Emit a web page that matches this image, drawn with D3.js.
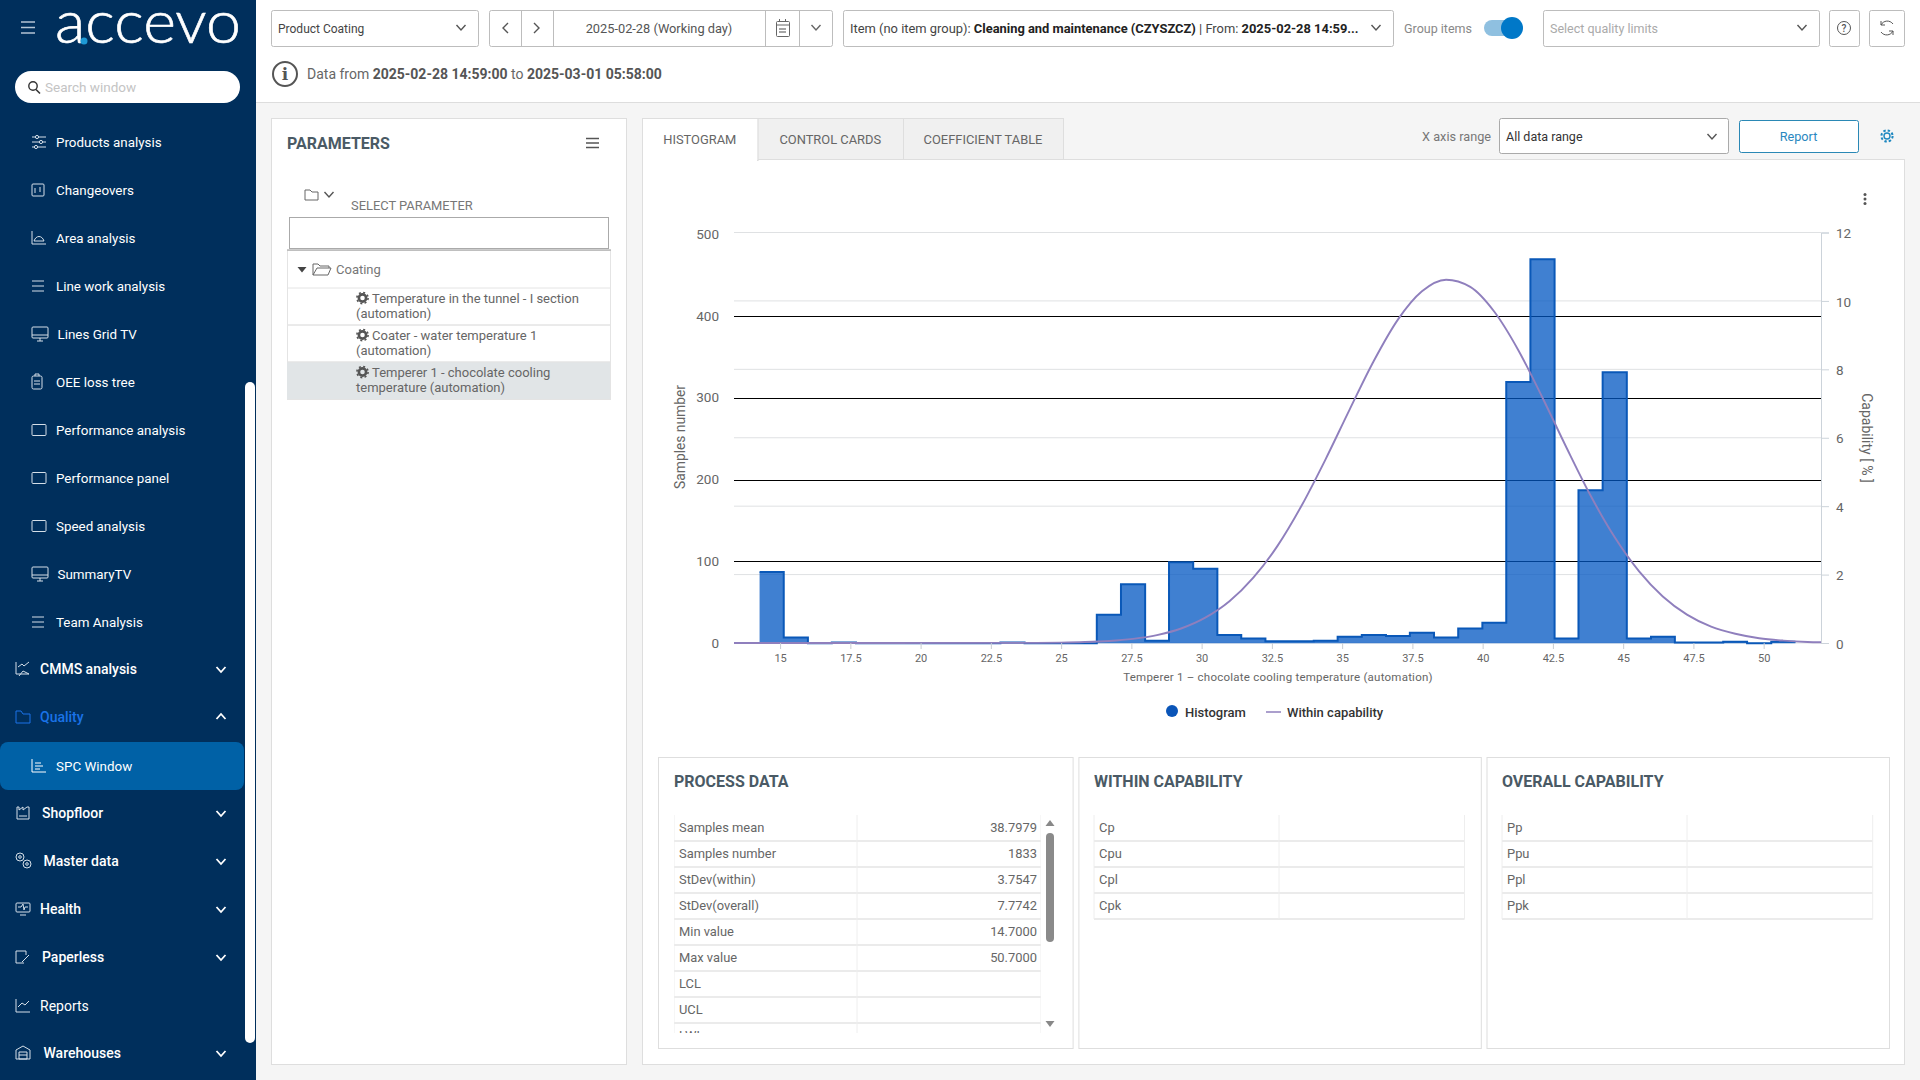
<!DOCTYPE html>
<html><head><meta charset="utf-8"><title>SPC Window</title>
<script src="https://cdn.jsdelivr.net/npm/d3@7"></script>
<style>html,body{margin:0;padding:0;background:#fff;overflow:hidden}svg{display:block}text{font-family:Roboto,sans-serif}</style>
</head><body><div id="app"></div>
<script>
// ---------- chart data ----------
const binEdges=[14.27,15.13,15.99,16.84,17.7,18.56,19.41,20.27,21.13,21.99,22.84,23.7,24.56,25.41,26.27,27.13,27.99,28.84,29.7,30.56,31.41,32.27,33.13,33.99,34.84,35.7,36.56,37.41,38.27,39.13,39.99,40.84,41.7,42.56,43.41,44.27,45.13,45.99,46.84,47.7,48.56,49.41,50.27,51.13];
const histogramCounts=[87,7,0,1,0,0,0,0,0,0,1,0,0,0,35,72,3,99,91,10,6,2.4,2.4,3,8,10,9,13,7,18,25,319,469,6,187,331,6,8,1,1,2,0,2];
const capabilityX=[13.36,24.13,24.99,25.84,26.7,27.56,28.41,29.27,30.13,30.99,31.84,32.7,33.56,34.41,35.27,36.13,36.99,37.84,38.7,39.56,40.41,41.27,42.13,42.99,43.84,44.7,45.56,46.41,47.27,48.13,48.99,49.84,50.7,51.56,52.04];
const capabilityY=[0,0.005,0.012,0.028,0.059,0.121,0.231,0.424,0.74,1.22,1.91,2.84,4.02,5.37,6.83,8.25,9.46,10.28,10.62,10.41,9.69,8.56,7.17,5.7,4.31,3.09,2.1,1.36,0.83,0.48,0.27,0.14,0.07,0.03,0.02];
const xTicks=[15,17.5,20,22.5,25,27.5,30,32.5,35,37.5,40,42.5,45,47.5,50];
const leftTicks=[0,100,200,300,400,500];
const rightTicks=[0,2,4,6,8,10,12];
const xDomain=[13.36,52.04];
const leftDomain=[0,500];
const rightDomain=[0,12];
// ---------- page text ----------
const subMenu=["Products analysis","Changeovers","Area analysis","Line work analysis","Lines Grid TV","OEE loss tree","Performance analysis","Performance panel","Speed analysis","SummaryTV","Team Analysis"];
const subIcons=["sliders","grid","area","lines","tv","clip","box","box","box","tv","lines"];
const topMenu=["CMMS analysis","Quality","Shopfloor","Master data","Health","Paperless","Reports","Warehouses"];
const topIcons=["chart","folder","factory","gears","monitor","doc","line","store"];
const processLabels=["Samples mean","Samples number","StDev(within)","StDev(overall)","Min value","Max value","LCL","UCL","LWL"];
const processValues=["38.7979","1833","3.7547","7.7742","14.7000","50.7000","","",""];
const withinLabels=["Cp","Cpu","Cpl","Cpk"];
const overallLabels=["Pp","Ppu","Ppl","Ppk"];
const tabs=["HISTOGRAM","CONTROL CARDS","COEFFICIENT TABLE"];
const treeRows=[["Temperature in the tunnel - I section","(automation)"],["Coater - water temperature 1","(automation)"],["Temperer 1 - chocolate cooling","temperature (automation)"]];

const svg=d3.select("#app").append("svg").attr("width",1920).attr("height",1080).attr("viewBox","0 0 1920 1080");
function R(x,y,w,h,f,s,rx,g){return (g||svg).append("rect").attr("x",x+(s?.5:0)).attr("y",y+(s?.5:0)).attr("width",w).attr("height",h).attr("fill",f||"none").attr("stroke",s||"none").attr("rx",rx||0);}
function T(x,y,t,o={},g){const e=(g||svg).append("text").attr("x",x).attr("y",y).attr("dy",".35em").attr("font-size",o.s||13).attr("fill",o.c||"#666").attr("font-weight",o.w||400).attr("text-anchor",o.a||"start").text(t);if(o.ls)e.attr("letter-spacing",o.ls);if(o.f)e.style("font-family",o.f);return e;}
function P(d,s,o={},g){return (g||svg).append("path").attr("d",d).attr("fill",o.f||"none").attr("stroke",s||"none").attr("stroke-width",o.w||1).attr("stroke-linecap",o.cap||"butt");}
function chev(x,y,c,up,w){const h=up?-3:3;P(`M${x-4.5} ${y-h/1.5}L${x} ${y+h}L${x+4.5} ${y-h/1.5}`,c,{w:w||1.4});}

// backgrounds
R(0,0,1920,1080,"#f5f5f5");
R(256,0,1664,102.5,"#fff");
svg.append("line").attr("x1",256).attr("x2",1920).attr("y1",102.5).attr("y2",102.5).attr("stroke","#ddd");
const side=svg.append("g");
R(0,0,256,1080,"#002f5c",null,0,side);

// logo & search
[22,27.5,33].forEach(y=>side.append("line").attr("x1",21).attr("x2",35).attr("y1",y).attr("y2",y).attr("stroke","#b5c5d5").attr("stroke-width",1.5));
side.append("text").attr("x",55).attr("y",43).attr("font-size",59).attr("font-weight",300).attr("fill","#fff").attr("stroke","#fff").attr("stroke-width",.6).style("font-family","Lato").attr("textLength",186).attr("lengthAdjust","spacingAndGlyphs").text("accevo");
side.append("circle").attr("cx",84).attr("cy",41).attr("r",3.5).attr("fill","#1e9ad6");
R(15,71,225,32,"#fff",null,16,side);
side.append("circle").attr("cx",33).attr("cy",86).attr("r",4.2).attr("fill","none").attr("stroke","#333").attr("stroke-width",1.4);
P("M36 89.5L40 93.5","#333",{w:1.6},side);
T(45,87,"Search window",{s:13.5,c:"#c4c4c4"},side);

// sidebar icons
function icon(kind,x,y,c){const g=side.append("g").attr("transform",`translate(${x},${y})`).attr("fill","none").attr("stroke",c).attr("stroke-width",1);
 const p=d=>g.append("path").attr("d",d);
 if(kind==="sliders"){p("M0-5H14M0 0H14M0 5H14");[[5,-5],[9,0],[4,5]].forEach(a=>g.append("circle").attr("cx",a[0]).attr("cy",a[1]).attr("r",1.6).attr("fill","#002f5c"));}
 else if(kind==="grid"){g.append("rect").attr("x",0).attr("y",-6).attr("width",12).attr("height",12).attr("rx",1);p("M3-2V3M8-3V2");}
 else if(kind==="area"){p("M0-7V6H14M2 3C4-3 10-3 12 3Z");}
 else if(kind==="lines"){p("M0-5H12M0 0H12M0 5H12");}
 else if(kind==="tv"){g.append("rect").attr("x",0).attr("y",-7).attr("width",16).attr("height",11).attr("rx",1);p("M0 1H16M5 7H11M8 4V7");}
 else if(kind==="clip"){g.append("rect").attr("x",0).attr("y",-6).attr("width",10).attr("height",13).attr("rx",1.5);p("M3-6V-8H7V-6M2-1H8M2 2H8");}
 else if(kind==="box"){g.append("rect").attr("x",0).attr("y",-5.5).attr("width",14).attr("height",11).attr("rx",1);}
 else if(kind==="chart"){p("M0-7V5H13M2-2L6-5L8-3L13-7M3 7L7 2L13 5");}
 else if(kind==="spc"){p("M0-7V6H14M3-3H9M3 0H11M3 3H8");}
 else if(kind==="folder"){p("M0-6H5L7-3H14V6H0Z");}
 else if(kind==="factory"){p("M1-6H3V-3L7-6V-3L11-6V-6H13V6H1ZM3 3H11");}
 else if(kind==="gears"){[[4,-4,4],[11,3,4]].forEach(a=>g.append("circle").attr("cx",a[0]).attr("cy",a[1]).attr("r",a[2]));[[4,-4],[11,3]].forEach(a=>g.append("circle").attr("cx",a[0]).attr("cy",a[1]).attr("r",1.3));}
 else if(kind==="monitor"){g.append("rect").attr("x",0).attr("y",-6).attr("width",14).attr("height",9).attr("rx",1);p("M2-2H5L7-5L8 1L9-2H12M4 6H10");}
 else if(kind==="doc"){p("M10-2V-6H0V6H8M6 5L13-2");}
 else if(kind==="line"){p("M0-7V6H14M2 1L6-3L9-1L13-5");}
 else if(kind==="store"){p("M0-3L7-7L14-3V6H0ZM3-1H11V6H3ZM3 2H11");}
}
const subY=d3.scaleLinear([0,10],[142,622]);
subMenu.forEach((t,i)=>{const y=subY(i);icon(subIcons[i],32,y,"#d5dfe8");T(subIcons[i]==="tv"?57.5:56,y,t,{s:13.4,c:"#fff"},side);});
const topYs=[669,717,813,861,909,957,1006,1053];
const topTextX=[40,40,42,43.5,40,42,40,43.5];
R(0,742,244,48,"#0061a6",null,8,side);
icon("spc",32,766,"#fff");
T(56,766,"SPC Window",{s:13.4,c:"#fff"},side);
topMenu.forEach((t,i)=>{const y=topYs[i],q=t==="Quality";icon(topIcons[i],16,y,q?"#1a73e8":"#d5dfe8");
 T(topTextX[i],y,t,{s:14,c:q?"#1a73e8":"#fff",w:t==="Reports"?400:500},side);
 if(t!=="Reports")chev(221,y,"#fff",q,1.8);});
R(245,382,10,661,"#fff",null,5,side);

// top bar helpers
const bd="#bdbdbd";
R(271,10,207,36,"#fff",bd,2);T(278,28.5,"Product Coating",{s:12,c:"#444"});chev(461,27,"#555");
R(489,10,343,36,"#fff",bd,2);[521,553,765,799].forEach(x=>svg.append("line").attr("x1",x+.5).attr("x2",x+.5).attr("y1",10).attr("y2",46).attr("stroke",bd));
P("M508 23L503 28L508 33","#555",{w:1.4});P("M534 23L539 28L534 33","#555",{w:1.4});
T(659,28.5,"2025-02-28 (Working day)",{s:12.8,c:"#555",a:"middle"});
R(776,21,13,15,"none","#666",1);P("M776 25H789M779.5 19V22M785.5 19V22","#666");P("M779 29H786M779 32H786","#888",{w:1.5});
chev(816,27,"#666");
R(843,10,550,36,"#fff",bd,2);
const it=svg.append("text").attr("x",850).attr("y",28.5).attr("dy",".35em").attr("font-size",12.9).attr("fill","#444");
it.append("tspan").text("Item (no item group): ");it.append("tspan").attr("font-weight",700).attr("fill","#222").text("Cleaning and maintenance (CZYSZCZ)");it.append("tspan").text(" | From: ");it.append("tspan").attr("font-weight",700).attr("fill","#222").text("2025-02-28 14:59...");
chev(1376,27,"#555");
T(1404,28.5,"Group items",{s:12.5,c:"#888"});
R(1484,20,38,16,"#8fc0e0",null,8);svg.append("circle").attr("cx",1512).attr("cy",28).attr("r",11).attr("fill","#0078c8");
R(1543,10,276,36,"#fff",bd,2);T(1550,28.5,"Select quality limits",{s:12.5,c:"#aaa"});chev(1802,27,"#555");
R(1829,10,30,36,"#fff",bd,2);svg.append("circle").attr("cx",1844).attr("cy",28).attr("r",6.5).attr("fill","none").attr("stroke","#555");T(1844,28,"?",{s:10,c:"#555",a:"middle",w:500});
R(1869,10,35,36,"#fff",bd,2);P("M1893 24A7 7 0 0 0 1881 25M1881 32A7 7 0 0 0 1893 31M1881 21V25H1885M1893 35V31H1889","#555");
// info line
svg.append("circle").attr("cx",285).attr("cy",74).attr("r",12).attr("fill","none").attr("stroke","#555").attr("stroke-width",2);
T(285,74,"i",{s:17,c:"#555",a:"middle",w:700,f:"DejaVu Serif"});
const inf=svg.append("text").attr("x",307).attr("y",74).attr("dy",".35em").attr("font-size",14).attr("fill","#666");
inf.append("tspan").text("Data from ");inf.append("tspan").attr("font-weight",700).attr("fill","#555").text("2025-02-28 14:59:00");inf.append("tspan").text(" to ");inf.append("tspan").attr("font-weight",700).attr("fill","#555").text("2025-03-01 05:58:00");

// parameters panel
R(271,118,355,946,"#fff","#dedede");
T(287,143,"PARAMETERS",{s:16,c:"#4a5a65",w:700});
[138.5,143,147.5].forEach(y=>svg.append("line").attr("x1",586).attr("x2",599).attr("y1",y).attr("y2",y).attr("stroke","#555").attr("stroke-width",1.5));
P("M305 190H310L312 192H318V200H305Z","#666");chev(329,194,"#555");
T(351,205,"SELECT PARAMETER",{s:12.9,c:"#777"});
R(289,217,319,31,"#fff","#aaa");
R(287,250,323,149,"#fff","#e4e4e4");
svg.append("line").attr("x1",287).attr("x2",611).attr("y1",250).attr("y2",250).attr("stroke","#999");
P("M297.5 267H306.5L302 272.5Z",null,{f:"#444"});
P("M313 275V264H318L320 266H329V268M313 275L317 268H331L328 275Z","#666");
T(336,269,"Coating",{s:13,c:"#777"});
const rowTop=[288,325,362];
treeRows.forEach((r,i)=>{
 const y=rowTop[i];
 if(i===2)R(287,y,323,37,"#e1e5e7");else svg.append("line").attr("x1",287).attr("x2",611).attr("y1",y+37).attr("y2",y+37).attr("stroke","#e4e4e4");
 svg.append("line").attr("x1",287).attr("x2",611).attr("y1",y).attr("y2",y).attr("stroke","#e4e4e4");
 svg.append("circle").attr("cx",362.5).attr("cy",y+10).attr("r",3.6).attr("fill","none").attr("stroke","#555").attr("stroke-width",2.6);
 svg.append("circle").attr("cx",362.5).attr("cy",y+10).attr("r",5.6).attr("fill","none").attr("stroke","#555").attr("stroke-width",1.6).attr("stroke-dasharray","2 2.4");
 T(372,y+10.5,r[0],{s:13,c:"#666"});T(356,y+25.5,r[1],{s:13,c:"#666"});
});

// tabs & tool row
R(642,159,1262,905,"#fff","#dedede");
const tabX=[642,757.6,903,1063];
tabs.forEach((t,i)=>{const a=i===0;R(tabX[i],118,tabX[i+1]-tabX[i],a?42:41,a?"#fff":"#f0f0f0","#dedede");T((tabX[i]+tabX[i+1])/2,139,t,{s:12.9,c:"#666",a:"middle"});});
svg.append("line").attr("x1",643).attr("x2",757).attr("y1",160).attr("y2",160).attr("stroke","#fff").attr("stroke-width",2);
T(1491,137,"X axis range",{s:12.7,c:"#777",a:"end"});
R(1499,118,229,35,"#fff","#aaa",2);T(1506,137,"All data range",{s:12.5,c:"#333"});chev(1712,136,"#555");
R(1739,120,119,32,"#fff","#2a88b5",2);T(1798.5,137,"Report",{s:12.7,c:"#2a88c0",a:"middle"});
svg.append("circle").attr("cx",1887).attr("cy",136).attr("r",3).attr("fill","none").attr("stroke","#1f88c0").attr("stroke-width",1.4);
svg.append("circle").attr("cx",1887).attr("cy",136).attr("r",5.6).attr("fill","none").attr("stroke","#1f88c0").attr("stroke-width",2).attr("stroke-dasharray","2.4 2");
[194.5,199,203.5].forEach(y=>svg.append("circle").attr("cx",1865).attr("cy",y).attr("r",1.5).attr("fill","#555"));

// ---------- chart ----------
const x=d3.scaleLinear(xDomain,[734,1821]);
const yL=d3.scaleLinear(leftDomain,[643.3,233.8]);
const yR=d3.scaleLinear(rightDomain,[643,232.5]);
const chart=svg.append("g");
chart.append("g").selectAll("line").data(rightTicks).join("line").attr("x1",734).attr("x2",1821).attr("y1",d=>yR(d)).attr("y2",d=>yR(d)).attr("stroke","#dfe1e3");
chart.append("g").selectAll("line").data(leftTicks.filter(d=>d>0&&d<500)).join("line").attr("x1",734).attr("x2",1821).attr("y1",d=>Math.round(yL(d))+.5).attr("y2",d=>Math.round(yL(d))+.5).attr("stroke","#000").attr("stroke-width",1);
const stepData=binEdges.map((e,i)=>({e,v:i<histogramCounts.length?histogramCounts[i]:histogramCounts[i-1]}));
chart.append("path").datum(stepData).attr("d",d3.area().x(d=>x(d.e)).y0(yL(0)).y1(d=>yL(d.v)).curve(d3.curveStepAfter)).attr("fill","#0055c2").attr("fill-opacity",.75);
chart.append("path").datum(stepData).attr("d",d3.line().x(d=>x(d.e)).y(d=>yL(d.v)).curve(d3.curveStepAfter)).attr("fill","none").attr("stroke","#0a58b8").attr("stroke-width",2);
const pts=capabilityX.map((c,i)=>[c,capabilityY[i]]);
chart.append("path").datum(pts).attr("d",d3.line().x(d=>x(d[0])).y(d=>yR(d[1])).curve(d3.curveMonotoneX)).attr("fill","none").attr("stroke","#8f7fbd").attr("stroke-width",1.9);

const gx=chart.append("g").attr("transform","translate(0,643)").call(d3.axisBottom(x).tickValues(xTicks).tickFormat(d=>String(d)).tickSize(6).tickPadding(5));
gx.select(".domain").remove();gx.selectAll("line").attr("stroke","#c8cdd2");gx.selectAll("text").attr("font-size",11).attr("fill","#666").attr("font-family","Roboto");
const gl=chart.append("g").attr("transform","translate(734,0)").call(d3.axisLeft(yL).tickValues(leftTicks).tickSize(0).tickPadding(15));
gl.select(".domain").remove();gl.selectAll("text").attr("font-size",13.5).attr("fill","#666").attr("font-family","Roboto");
const gr=chart.append("g").attr("transform","translate(1821,0)").call(d3.axisRight(yR).tickValues(rightTicks).tickSize(8).tickPadding(7));
gr.select(".domain").attr("stroke","#ccd3da");gr.selectAll("line").attr("stroke","#ccd3da");gr.selectAll("text").attr("font-size",13.5).attr("fill","#666").attr("font-family","Roboto").attr("dy","0.38em");

chart.append("text").attr("transform","translate(680,437) rotate(-90)").attr("dy",".35em").attr("text-anchor","middle").attr("font-size",13.8).attr("fill","#666").text("Samples number");
chart.append("text").attr("transform","translate(1866.5,438) rotate(90)").attr("dy",".35em").attr("text-anchor","middle").attr("font-size",14).attr("fill","#666").text("Capability [ % ]");
T(1278,677,"Temperer 1 – chocolate cooling temperature (automation)",{s:11.5,c:"#666",a:"middle",ls:.23},chart);
chart.append("circle").attr("cx",1172).attr("cy",711).attr("r",6).attr("fill","#0a55b8");
T(1185,712.5,"Histogram",{s:13,c:"#333",w:500},chart);
chart.append("line").attr("x1",1266).attr("x2",1281).attr("y1",712).attr("y2",712).attr("stroke","#8f7fbd").attr("stroke-width",1.5);
T(1287,712.5,"Within capability",{s:13,c:"#333",w:500},chart);

// ---------- bottom cards ----------
const rowY=d3.scaleLinear([0,8],[828,1036]);
function card(x0,x1,title,labels,values,tx0,tx1,div,clip){
 R(x0,757,x1-x0,291,"#fff","#dedede");
 T(tx0,781,title,{s:16,c:"#4a5a65",w:700});
 const g=svg.append("g");
 if(clip){const id="clip"+x0;svg.append("clipPath").attr("id",id).append("rect").attr("x",tx0).attr("y",815).attr("width",tx1-tx0).attr("height",218);g.attr("clip-path",`url(#${id})`);}
 labels.forEach((l,i)=>{const y=rowY(i);
  g.append("line").attr("x1",tx0).attr("x2",tx1).attr("y1",y+13).attr("y2",y+13).attr("stroke","#e5e5e5").attr("stroke-width",1.5);
  T(tx0+5,y-1,l,{s:12.9,c:"#666"},g);
  if(values&&values[i])T(tx1-4,y-1,values[i],{s:12.9,c:"#666",a:"end"},g);});
 const h=rowY(labels.length-1)+13;
 g.append("line").attr("x1",div).attr("x2",div).attr("y1",815).attr("y2",h).attr("stroke","#eee");
 g.append("line").attr("x1",tx0).attr("x2",tx0).attr("y1",815).attr("y2",h).attr("stroke","#eee");
 g.append("line").attr("x1",tx1).attr("x2",tx1).attr("y1",815).attr("y2",h).attr("stroke","#eee");
}
card(658,1072.6,"PROCESS DATA",processLabels,processValues,674,1041,857,true);
card(1078.4,1480.8,"WITHIN CAPABILITY",withinLabels,null,1094,1464.5,1279);
card(1486.5,1889,"OVERALL CAPABILITY",overallLabels,null,1502,1872.7,1687);
R(1046,833,8,109,"#8a8a8a",null,4);
P("M1045.5 826L1050 820L1054.5 826Z",null,{f:"#888"});P("M1045.5 1021L1050 1027L1054.5 1021Z",null,{f:"#888"});
</script></body></html>
